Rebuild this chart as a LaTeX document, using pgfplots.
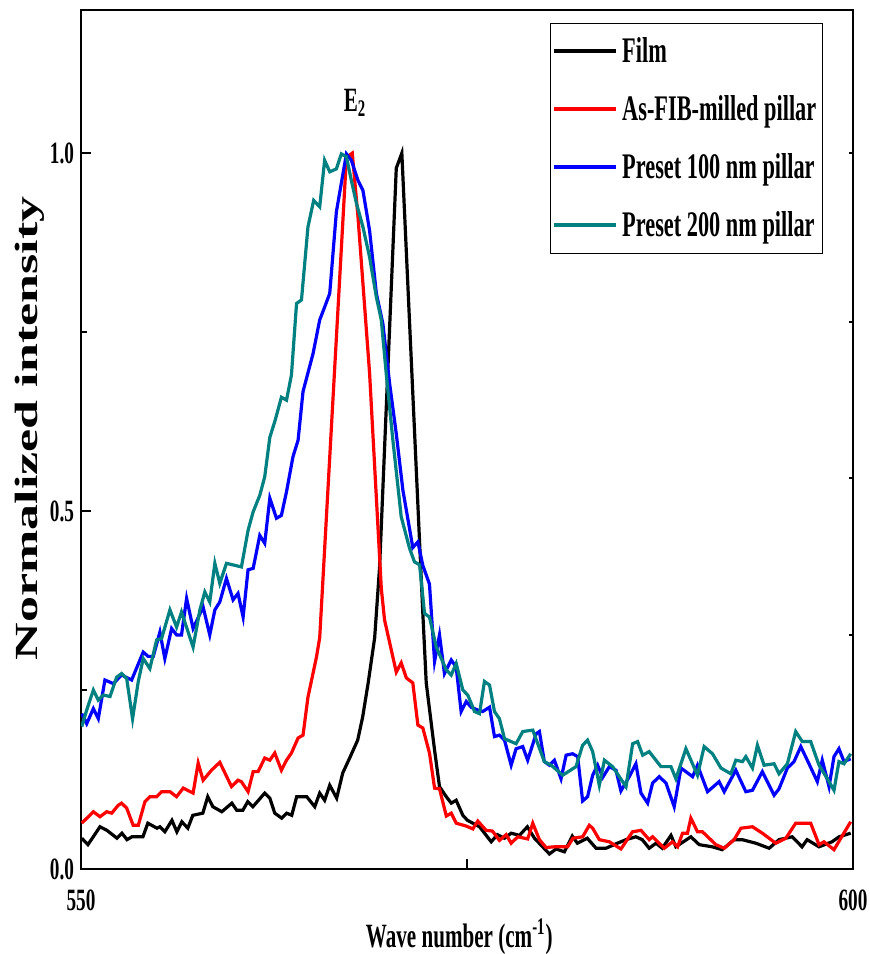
\documentclass[border=0pt]{standalone}
\usepackage{fontspec}
\setmainfont{Liberation Serif}[FakeStretch=0.62]
\newfontfamily\plainserif{Liberation Serif}
\usepackage{graphicx}
\usepackage{pgfplots}
\pgfplotsset{compat=1.18}
\definecolor{tealc}{RGB}{0,128,128}
\begin{document}
\begin{tikzpicture}
\path[use as bounding box] (-40.5pt,-42.5pt) rectangle (394pt,434.5pt);
\begin{axis}[
 at={(0pt,0pt)}, anchor=south west,
 scale only axis, width=386pt, height=429.5pt,
 xmin=550, xmax=600, ymin=0, ymax=1.2,
 xtick={550,575,600}, xticklabels={550,,600},
 ytick={0,0.5,1.0}, yticklabels={0.0,0.5,1.0},
 minor ytick={0.25,0.75},
 xtick pos=bottom, ytick pos=left,
 tick align=inside,
 major tick length=5pt, minor tick length=3pt,
 every tick/.style={black, line width=1.2pt},
 axis line style={line width=1.4pt},
 tick label style={font=\fontsize{15.5}{15.5}\selectfont\bfseries},
 /pgf/number format/assume math mode=true,
 xticklabel style={yshift=-7pt},
 xlabel={Wave number (cm\textsuperscript{-1})},
 xlabel style={font=\fontsize{17}{17}\selectfont\bfseries, at={(axis description cs:0.49,-0.079)}, anchor=center},
 ylabel={\scalebox{1}[0.62]{\plainserif\bfseries\fontsize{26}{26}\selectfont Normalized intensity}},
 ylabel style={at={(axis description cs:-0.066,0.513)}, anchor=center},
 legend style={at={(axis description cs:0.961,0.985)}, anchor=north east, draw=black, line width=0.6pt,
   font=\fontsize{18}{21}\selectfont\bfseries, row sep=11pt, inner xsep=1pt, inner ysep=5pt, cells={anchor=west}},
 legend image code/.code={\draw[#1, line width=2pt] (0pt,0pt) -- (31pt,0pt);},
]
\addplot[black, line width=1.6pt] coordinates {
(550.05,0.043)(550.45,0.034)(551.23,0.059)(551.68,0.054)(552.33,0.043)(552.65,0.050)(552.98,0.041)(553.30,0.045)
(554.01,0.045)(554.33,0.064)(554.92,0.057)(555.11,0.059)(555.43,0.052)(555.89,0.068)(556.21,0.052)(556.53,0.066)
(556.92,0.057)(557.24,0.075)(557.89,0.078)(558.21,0.101)(558.54,0.087)(559.12,0.080)(559.77,0.092)(560.09,0.082)
(560.48,0.082)(560.80,0.094)(561.13,0.087)(561.90,0.106)(562.23,0.099)(562.55,0.078)(563.00,0.071)(563.32,0.078)
(563.65,0.075)(563.97,0.101)(564.62,0.101)(565.14,0.087)(565.46,0.106)(565.78,0.096)(566.11,0.117)(566.56,0.099)
(566.95,0.134)(567.40,0.155)(567.92,0.180)(568.24,0.212)(568.60,0.260)(569.02,0.323)(569.34,0.422)(570.42,0.979)
(570.78,1.000)(572.14,0.357)(572.36,0.260)(572.90,0.166)(573.22,0.115)(573.66,0.101)(573.98,0.092)(574.30,0.096)
(574.73,0.075)(575.03,0.068)(575.81,0.059)(576.57,0.038)(576.97,0.048)(577.43,0.043)(577.86,0.050)(578.40,0.047)
(578.91,0.059)(579.37,0.043)(580.34,0.021)(580.77,0.028)(581.31,0.024)(581.82,0.046)(582.15,0.036)(582.79,0.043)
(583.36,0.029)(584.00,0.029)(584.74,0.036)(585.30,0.041)(585.94,0.045)(586.35,0.041)(586.80,0.029)(587.24,0.036)
(587.65,0.029)(588.21,0.047)(588.53,0.031)(589.50,0.045)(590.04,0.034)(590.88,0.031)(591.53,0.027)(592.30,0.041)
(592.82,0.041)(593.71,0.036)(594.57,0.029)(595.21,0.041)(596.06,0.045)(596.70,0.031)(597.03,0.041)(597.80,0.031)
(598.64,0.038)(599.10,0.045)(599.85,0.050)
};
\addlegendentry{Film}
\addplot[red, line width=1.6pt] coordinates {
(550.05,0.064)(550.80,0.080)(551.23,0.073)(551.66,0.080)(551.99,0.078)(552.41,0.089)(552.63,0.092)(552.96,0.085)
(553.38,0.061)(553.71,0.061)(554.14,0.094)(554.46,0.101)(554.90,0.101)(555.22,0.108)(555.76,0.108)(556.19,0.101)
(556.62,0.113)(557.26,0.106)(557.59,0.148)(557.91,0.124)(558.45,0.138)(558.99,0.149)(559.75,0.115)(560.17,0.124)
(560.39,0.122)(560.82,0.108)(561.15,0.136)(561.47,0.136)(561.90,0.155)(562.23,0.152)(562.55,0.162)(562.98,0.138)
(563.31,0.152)(563.63,0.162)(564.06,0.183)(564.38,0.187)(564.70,0.240)(565.25,0.296)(565.46,0.323)(567.19,0.994)
(567.57,1.000)(567.94,0.911)(568.69,0.693)(569.45,0.392)(569.66,0.348)(570.42,0.275)(570.74,0.288)(571.07,0.267)
(571.49,0.260)(571.82,0.201)(572.14,0.197)(572.57,0.162)(572.90,0.113)(573.22,0.112)(573.66,0.074)(573.98,0.078)
(574.30,0.064)(574.95,0.060)(575.38,0.056)(575.70,0.067)(576.24,0.054)(576.65,0.053)(577.10,0.040)(577.54,0.048)
(577.86,0.036)(578.29,0.045)(578.93,0.042)(579.26,0.064)(579.69,0.041)(580.12,0.030)(580.66,0.031)(581.20,0.031)
(581.52,0.031)(581.86,0.043)(582.49,0.045)(582.92,0.061)(583.14,0.057)(583.57,0.041)(584.22,0.038)(584.97,0.028)
(585.72,0.052)(586.27,0.054)(586.80,0.041)(587.02,0.045)(587.78,0.029)(588.31,0.038)(588.64,0.031)(588.96,0.050)
(589.28,0.050)(589.50,0.071)(589.93,0.052)(590.25,0.052)(591.12,0.034)(591.66,0.029)(592.30,0.041)(592.74,0.057)
(593.49,0.059)(594.13,0.050)(595.00,0.036)(595.65,0.043)(596.29,0.064)(597.26,0.064)(597.80,0.034)(598.12,0.038)
(598.77,0.027)(599.85,0.066)
};
\addlegendentry{As-FIB-milled pillar}
\addplot[blue, line width=1.6pt] coordinates {
(550.05,0.217)(550.37,0.203)(550.80,0.224)(551.12,0.210)(551.55,0.264)(552.09,0.259)(552.63,0.271)(553.28,0.264)
(554.03,0.303)(554.35,0.297)(554.68,0.297)(555.11,0.331)(555.43,0.294)(555.87,0.336)(556.19,0.327)(556.51,0.327)
(556.84,0.378)(557.26,0.336)(557.91,0.366)(558.34,0.327)(558.67,0.362)(558.99,0.373)(559.42,0.406)(559.85,0.376)
(560.17,0.385)(560.50,0.352)(560.82,0.418)(561.15,0.420)(561.58,0.466)(561.90,0.455)(562.23,0.518)(562.66,0.490)
(562.98,0.494)(563.31,0.527)(563.73,0.576)(564.06,0.599)(564.38,0.667)(565.03,0.720)(565.46,0.767)(565.78,0.785)
(566.11,0.804)(566.54,0.918)(567.19,0.999)(567.51,0.990)(567.94,0.962)(568.26,0.948)(568.69,0.892)(569.13,0.804)
(569.55,0.762)(569.99,0.678)(570.42,0.608)(570.85,0.529)(571.49,0.449)(571.82,0.457)(572.14,0.424)(572.57,0.398)
(572.90,0.290)(573.22,0.327)(573.54,0.273)(573.98,0.292)(574.30,0.282)(574.62,0.220)(574.95,0.234)(575.27,0.226)
(575.70,0.222)(576.02,0.220)(576.46,0.226)(576.78,0.185)(577.10,0.187)(577.43,0.180)(577.86,0.145)(578.18,0.168)
(578.61,0.171)(578.93,0.152)(579.48,0.189)(579.69,0.192)(580.01,0.150)(580.34,0.145)(580.66,0.152)(581.09,0.126)
(581.42,0.159)(581.84,0.161)(582.17,0.157)(582.49,0.095)(582.81,0.101)(583.14,0.131)(583.46,0.145)(583.79,0.128)
(584.22,0.143)(584.65,0.138)(584.97,0.109)(585.51,0.129)(585.94,0.147)(586.27,0.106)(586.70,0.092)(587.02,0.120)
(587.45,0.129)(587.89,0.120)(588.42,0.087)(588.86,0.141)(589.61,0.129)(589.93,0.145)(590.58,0.108)(591.33,0.122)
(591.66,0.108)(592.41,0.138)(593.06,0.108)(593.49,0.110)(594.13,0.136)(594.89,0.103)(595.21,0.112)(595.75,0.141)
(596.18,0.150)(596.62,0.171)(597.15,0.147)(597.69,0.122)(598.01,0.152)(598.45,0.115)(598.77,0.157)(599.09,0.168)
(599.42,0.150)(599.85,0.154)
};
\addlegendentry{Preset 100 nm pillar}
\addplot[tealc, line width=1.6pt] coordinates {
(550.05,0.199)(550.37,0.222)(550.80,0.250)(551.12,0.236)(551.44,0.243)(551.88,0.241)(552.31,0.268)(552.63,0.273)
(552.96,0.266)(553.34,0.210)(553.71,0.262)(554.03,0.294)(554.46,0.280)(554.90,0.320)(555.22,0.322)(555.76,0.362)
(556.19,0.338)(556.51,0.359)(557.26,0.310)(557.70,0.362)(558.02,0.387)(558.34,0.373)(558.67,0.427)(558.99,0.399)
(559.42,0.427)(560.39,0.422)(560.82,0.473)(561.15,0.499)(561.58,0.522)(561.90,0.548)(562.23,0.603)(562.55,0.625)
(562.98,0.659)(563.31,0.655)(563.63,0.690)(563.96,0.790)(564.28,0.795)(564.70,0.897)(565.07,0.934)(565.46,0.925)
(565.78,0.990)(566.11,0.974)(566.54,0.978)(566.86,0.999)(567.19,0.995)(567.51,0.962)(567.84,0.930)(568.26,0.897)
(568.69,0.855)(569.13,0.799)(569.45,0.767)(569.77,0.692)(570.20,0.599)(570.74,0.492)(571.28,0.448)(571.60,0.429)
(571.93,0.425)(572.25,0.357)(572.57,0.352)(573.01,0.310)(573.66,0.278)(573.98,0.271)(574.30,0.287)(574.73,0.250)
(575.05,0.243)(575.49,0.220)(575.81,0.217)(576.13,0.262)(576.46,0.257)(576.78,0.220)(577.10,0.210)(577.43,0.182)
(578.18,0.175)(578.61,0.192)(579.26,0.194)(580.01,0.150)(580.45,0.145)(581.20,0.131)(582.06,0.143)(582.49,0.173)
(582.81,0.180)(583.14,0.164)(583.57,0.117)(583.90,0.152)(584.43,0.143)(585.30,0.115)(585.73,0.175)(586.05,0.178)
(586.38,0.159)(586.80,0.164)(587.56,0.143)(588.21,0.143)(588.53,0.126)(589.18,0.168)(589.93,0.131)(590.36,0.171)
(590.90,0.161)(591.45,0.141)(592.09,0.133)(592.41,0.152)(592.84,0.150)(593.06,0.157)(593.49,0.141)(593.81,0.173)
(594.24,0.145)(594.89,0.147)(595.21,0.133)(595.75,0.147)(596.29,0.192)(596.72,0.178)(597.26,0.178)(597.80,0.145)
(598.34,0.126)(598.77,0.110)(599.09,0.150)(599.42,0.147)(599.85,0.161)
};
\addlegendentry{Preset 200 nm pillar}
\node[font=\fontsize{17}{17}\selectfont\bfseries] at (axis cs:567.75,1.07) {E\textsubscript{2}};
\end{axis}
\begin{axis}[
 at={(0pt,0pt)}, anchor=south west,
 scale only axis, width=386pt, height=429.5pt,
 xmin=550, xmax=600, ymin=0, ymax=1.2,
 axis x line=none, axis y line*=right,
 ytick={0.327,0.546,0.764,1.0}, yticklabels={},
 tick align=inside, major tick length=2pt,
 every tick/.style={black, line width=1pt},
 axis line style={line width=1.2pt},
]
\end{axis}
\end{tikzpicture}
\end{document}
